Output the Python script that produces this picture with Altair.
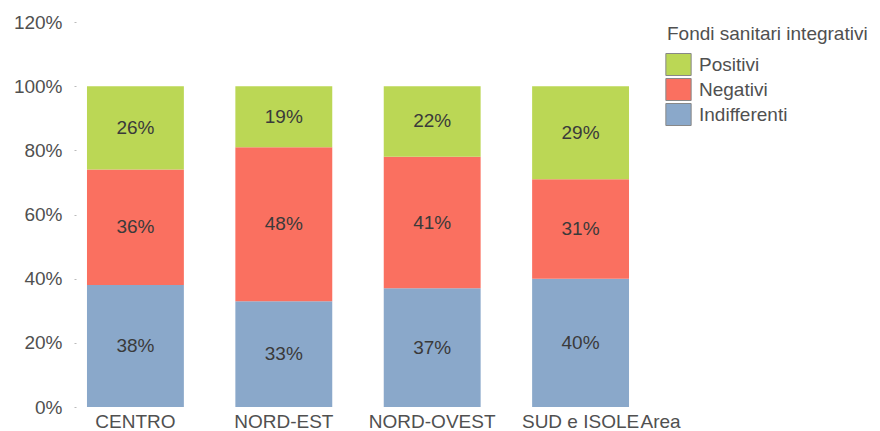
import altair as alt
import pandas as pd

areas = ["CENTRO", "NORD-EST", "NORD-OVEST", "SUD e ISOLE"]
indifferenti = [38, 33, 37, 40]
negativi = [36, 48, 41, 31]
positivi = [26, 19, 22, 29]
categories = ["Positivi", "Negativi", "Indifferenti"]
colors = ["#bbd755", "#fa7060", "#8aa8ca"]
stack_rank = {"Indifferenti": 0, "Negativi": 1, "Positivi": 2}
y_ticks = [0, 0.2, 0.4, 0.6, 0.8, 1.0, 1.2]

rows = []
for i, a in enumerate(areas):
    for cat, vals in (("Indifferenti", indifferenti), ("Negativi", negativi), ("Positivi", positivi)):
        rows.append({"area": a, "cat": cat, "value": vals[i] / 100, "rank": stack_rank[cat]})
df = pd.DataFrame(rows)

FONT = "Liberation Sans"
FS = 19
TXT = "#505050"

x_enc = alt.X(
    "area:N", sort=areas, title="Area",
    scale=alt.Scale(paddingInner=0.347, paddingOuter=0.074),
    axis=alt.Axis(domain=False, ticks=False, tickSize=0, labelPadding=5, labelAngle=0,
                  labelFont=FONT, labelFontSize=FS, labelColor=TXT,
                  titleFont=FONT, titleFontSize=FS, titleColor=TXT, titleFontWeight="normal",
                  titleX=564, titleY=5, titleAlign="left", titleBaseline="top"),
)

y_scale = alt.Scale(domain=[0, 1.2], nice=False)
y_axis = alt.Axis(domain=False, grid=False, ticks=True, tickSize=2, tickColor="#bbbbbb",
                  labelPadding=12, values=y_ticks, format=".0%",
                  labelFont=FONT, labelFontSize=FS, labelColor=TXT)

base = alt.Chart(df)

bars = base.mark_bar().encode(
    x=x_enc,
    y=alt.Y("value:Q", stack="zero", scale=y_scale, axis=y_axis, title=None),
    color=alt.Color(
        "cat:N",
        scale=alt.Scale(domain=categories, range=colors),
        legend=alt.Legend(
            orient="none", legendX=591, legendY=3, padding=0,
            title="Fondi sanitari integrativi", titleFont=FONT, titleFontSize=FS,
            titleFontWeight="normal", titleColor=TXT, titlePadding=9, titleLimit=400,
            labelFont=FONT, labelFontSize=FS, labelColor=TXT, labelOffset=9, labelLimit=300,
            symbolType="M-1.15,-1H1.15V1H-1.15Z", symbolSize=484,
            symbolStrokeColor="#888888", symbolStrokeWidth=1, symbolOpacity=1,
            rowPadding=-8,
        ),
    ),
    order=alt.Order("rank:Q", sort="ascending"),
)

labels = base.transform_stack(
    stack="value", groupby=["area"],
    sort=[alt.SortField("rank", order="ascending")],
    as_=["v0", "v1"],
).transform_calculate(
    mid="(datum.v0 + datum.v1) / 2"
).mark_text(font=FONT, fontSize=FS, color="#3a3a3a", baseline="middle").encode(
    x=x_enc,
    y=alt.Y("mid:Q", scale=y_scale, axis=y_axis, title=None),
    text=alt.Text("value:Q", format=".0%"),
)

chart = alt.layer(bars, labels).properties(
    width=564, height=385,
    autosize=alt.AutoSizeParams(type="none"),
    padding={"left": 68, "top": 14, "right": 232, "bottom": 40},
).configure_view(stroke=None)

chart.save("out.html", embed_options={"renderer": "svg", "actions": False})
